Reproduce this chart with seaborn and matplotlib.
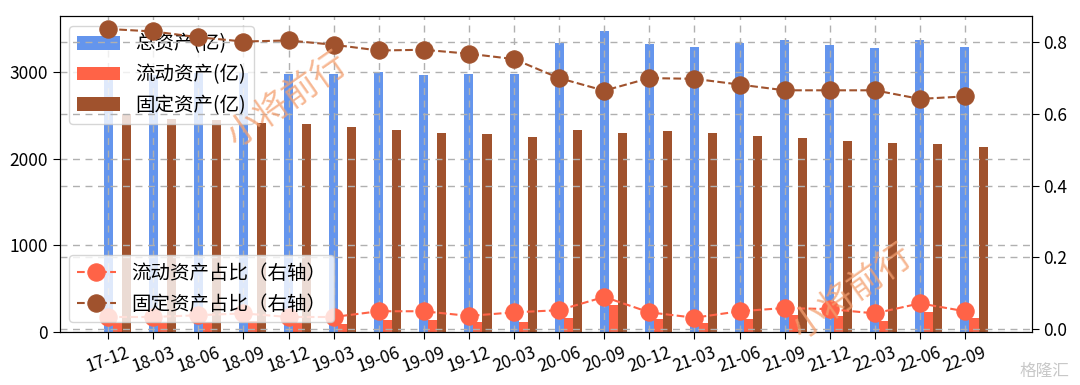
import numpy as np
import pandas as pd
import matplotlib
matplotlib.use("Agg")
import matplotlib.pyplot as plt
import seaborn as sns

plt.rcParams['font.family'] = ['Noto Sans CJK SC', 'DejaVu Sans']
plt.rcParams['axes.unicode_minus'] = False

# ---- data ----
periods = ["17-12", "18-03", "18-06", "18-09", "18-12", "19-03", "19-06", "19-09",
           "19-12", "20-03", "20-06", "20-09", "20-12", "21-03", "21-06", "21-09",
           "21-12", "22-03", "22-06", "22-09"]
total_assets = [2950, 2970, 2990, 2990, 2980, 2973, 3000, 2962, 2980, 2980,
                3337, 3471, 3326, 3291, 3337, 3368, 3306, 3272, 3368, 3287]
current_assets = [100, 100, 115, 130, 100, 96, 134, 134, 118, 118,
                  165, 312, 150, 100, 150, 196, 188, 130, 234, 165]
fixed_assets = [2516, 2460, 2448, 2410, 2398, 2364, 2330, 2295, 2280, 2249,
                2330, 2295, 2314, 2295, 2264, 2234, 2199, 2180, 2165, 2134]
current_ratio = [0.034, 0.034, 0.039, 0.044, 0.034, 0.034, 0.050, 0.050, 0.037, 0.047,
                 0.053, 0.090, 0.047, 0.032, 0.050, 0.059, 0.056, 0.044, 0.072, 0.050]
fixed_ratio = [0.837, 0.830, 0.814, 0.802, 0.805, 0.793, 0.777, 0.779, 0.768, 0.753,
               0.700, 0.665, 0.700, 0.698, 0.682, 0.666, 0.666, 0.666, 0.642, 0.649]

c_total = "#6495ED"
c_cur = "#FF6347"
c_fix = "#A0522D"
grid_kw = dict(linestyle=(0, (5, 4)), color='#b0b0b0', linewidth=1)

idx = np.arange(len(periods))

fig = plt.figure(figsize=(10.8, 3.85), dpi=100)
ax1 = fig.add_axes([0.0551, 0.1375, 0.9002, 0.8208])

bw = 0.2
sns.barplot(x=idx, y=total_assets, native_scale=True, width=bw, color=c_total,
            saturation=1, label="总资产(亿)", ax=ax1)
sns.barplot(x=idx + bw, y=current_assets, native_scale=True, width=bw, color=c_cur,
            saturation=1, label="流动资产(亿)", ax=ax1)
sns.barplot(x=idx + 2 * bw, y=fixed_assets, native_scale=True, width=bw, color=c_fix,
            saturation=1, label="固定资产(亿)", ax=ax1)

ax1.set_ylim(0, 3645)
ax1.set_yticks([0, 1000, 2000, 3000])
ax1.grid(True, **grid_kw)
ax1.set_axisbelow(False)
ax1.set_xlabel("")
ax1.set_ylabel("")

ax2 = ax1.twinx()
sns.lineplot(x=idx, y=current_ratio, ax=ax2, color=c_cur, marker='o', markersize=12.5,
             markeredgecolor=c_cur, linestyle='--', linewidth=1.5,
             label="流动资产占比（右轴）")
sns.lineplot(x=idx, y=fixed_ratio, ax=ax2, color=c_fix, marker='o', markersize=12.5,
             markeredgecolor=c_fix, linestyle='--', linewidth=1.5,
             label="固定资产占比（右轴）")
ax2.set_ylim(-0.008, 0.873)
ax2.set_yticks([0.0, 0.2, 0.4, 0.6, 0.8])
ax2.set_yticklabels(["0.0", "0.2", "0.4", "0.6", "0.8"])
ax2.grid(True, axis='y', **grid_kw)
ax2.set_ylabel("")

ax1.set_xticks(idx)
ax1.set_xticklabels(periods, rotation=20)
ax1.set_xlim(-1.08, 20.48)

for ax in (ax1, ax2):
    ax.tick_params(labelsize=12.5, length=5)

ax1.legend(loc='upper left', fontsize=14, handlelength=2.2, borderaxespad=0.5)
ax2.legend(loc='lower left', fontsize=14, borderaxespad=0.5)

# watermarks
fig.text(0.266, 0.74, "小将前行", rotation=35, fontsize=25, color='#F4A070',
         alpha=0.75, ha='center', va='center')
fig.text(0.789, 0.242, "小将前行", rotation=35, fontsize=25, color='#F4A070',
         alpha=0.75, ha='center', va='center')
fig.text(0.99, 0.035, "格隆汇", fontsize=12, color='#c8c8c8', ha='right', va='center')

fig.savefig("out.png", dpi=100)
